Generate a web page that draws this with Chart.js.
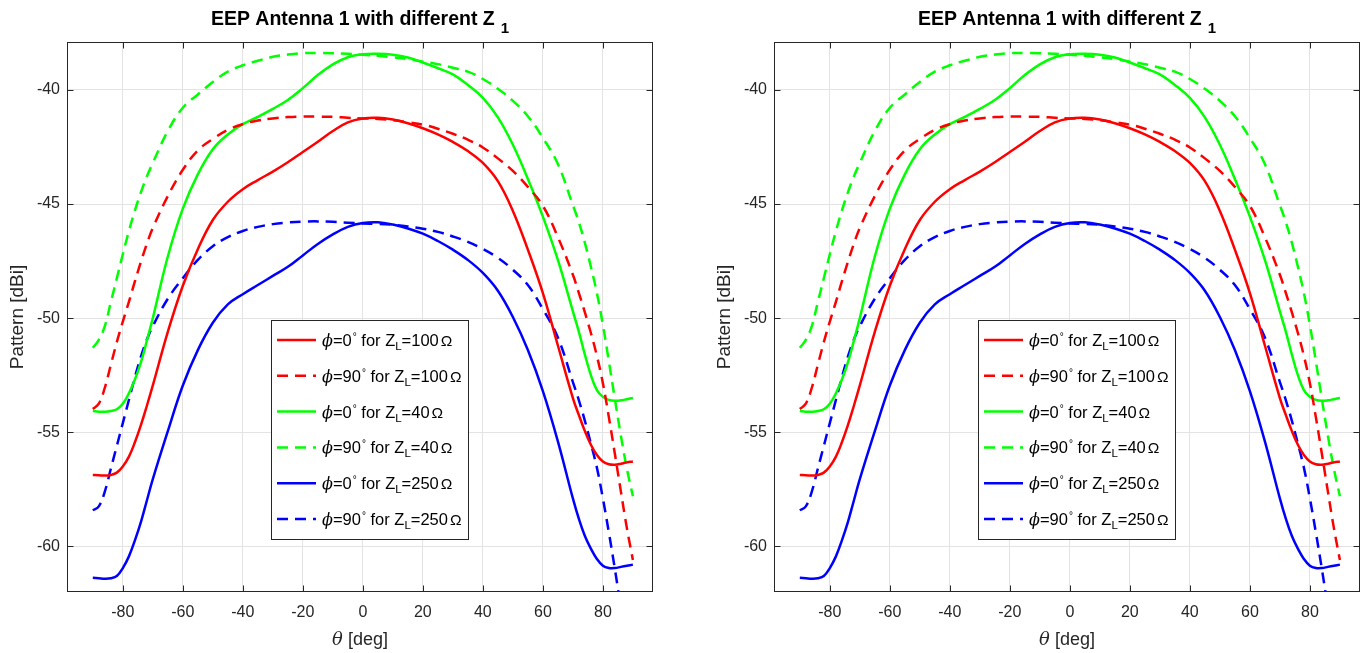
<!DOCTYPE html>
<html>
<head>
<meta charset="utf-8">
<script src="https://cdn.jsdelivr.net/npm/chart.js@4.4.0/dist/chart.umd.min.js"></script>
<style>
  body { margin: 0; background: #fff; width: 1368px; height: 653px; overflow: hidden; position: relative; }
  canvas { position: absolute; top: 0; }
  #eepLeft { left: 0; }
  #eepRight { left: 707px; }
</style>
</head>
<body>
<canvas id="eepLeft" width="661" height="653"></canvas>
<canvas id="eepRight" width="661" height="653"></canvas>
<script>
// angles in degrees (finer near the edges where the curves bend)
const theta = [-90, -88, -86, -84, -82, -80, -78, -76, -74, -72, -70,
  -65, -60, -55, -50, -45, -40, -35, -30, -25, -20, -15, -10, -5, 0,
  5, 10, 15, 20, 25, 30, 35, 40, 45, 50, 55, 60, 65,
  70, 72, 74, 76, 78, 80, 82, 84, 86, 88, 90];

// pattern values [dBi]
const red0 = [-56.87, -56.88, -56.90, -56.87, -56.77, -56.50, -56.08, -55.45, -54.70, -53.85, -52.95,
  -50.60, -48.58, -46.98, -45.70, -44.90, -44.35, -43.95, -43.58, -43.17, -42.72, -42.27, -41.80, -41.42, -41.25,
  -41.22, -41.30, -41.46, -41.68, -41.95, -42.28, -42.68, -43.20, -44.00, -45.30, -47.00, -48.90, -51.20,
  -53.50, -54.25, -54.95, -55.55, -56.00, -56.28, -56.40, -56.42, -56.38, -56.32, -56.28];
const red90 = [-53.98, -53.75, -53.05, -52.05, -51.05, -50.15, -49.30, -48.40, -47.55, -46.75, -46.05,
  -44.65, -43.50, -42.65, -42.15, -41.75, -41.50, -41.34, -41.25, -41.19, -41.17, -41.17, -41.18, -41.22, -41.25,
  -41.27, -41.33, -41.42, -41.52, -41.70, -41.92, -42.18, -42.52, -43.00, -43.55, -44.25, -45.08, -46.45,
  -48.10, -48.90, -49.75, -50.65, -51.65, -52.85, -54.35, -55.95, -57.60, -59.20, -60.60];
const green0 = [-54.07, -54.10, -54.10, -54.07, -53.99, -53.75, -53.30, -52.70, -51.95, -51.00, -50.00,
  -47.30, -45.20, -43.70, -42.60, -41.95, -41.50, -41.18, -40.83, -40.44, -39.92, -39.35, -38.88, -38.57, -38.44,
  -38.42, -38.46, -38.58, -38.80, -39.05, -39.32, -39.78, -40.35, -41.20, -42.40, -43.90, -45.55, -47.45,
  -49.70, -50.60, -51.60, -52.50, -53.15, -53.45, -53.58, -53.62, -53.60, -53.55, -53.50];
const green90 = [-51.30, -50.95, -50.35, -49.30, -48.25, -47.20, -46.20, -45.30, -44.50, -43.80, -43.20,
  -41.80, -40.78, -40.20, -39.65, -39.20, -38.92, -38.72, -38.55, -38.45, -38.39, -38.38, -38.39, -38.42, -38.46,
  -38.50, -38.57, -38.65, -38.76, -38.87, -39.03, -39.20, -39.52, -39.95, -40.48, -41.15, -42.10, -43.25,
  -45.05, -45.80, -46.70, -47.75, -48.90, -50.30, -51.90, -53.55, -55.15, -56.60, -57.80];
const blue0 = [-61.38, -61.40, -61.42, -61.40, -61.30, -60.95, -60.45, -59.75, -58.95, -58.00, -57.05,
  -54.95, -52.95, -51.40, -50.20, -49.40, -48.95, -48.55, -48.15, -47.75, -47.25, -46.75, -46.33, -46.00, -45.83,
  -45.80, -45.90, -46.07, -46.30, -46.62, -47.00, -47.45, -48.02, -48.80, -49.95, -51.40, -53.20, -55.40,
  -57.90, -58.80, -59.55, -60.10, -60.55, -60.85, -60.95, -60.95, -60.90, -60.85, -60.80];
const blue90 = [-58.42, -58.25, -57.60, -56.60, -55.60, -54.60, -53.60, -52.60, -51.70, -50.95, -50.35,
  -49.15, -48.25, -47.45, -46.85, -46.45, -46.18, -46.00, -45.88, -45.81, -45.77, -45.76, -45.78, -45.82, -45.85,
  -45.87, -45.91, -45.98, -46.08, -46.22, -46.42, -46.66, -46.97, -47.36, -47.88, -48.55, -49.60, -50.85,
  -52.80, -53.60, -54.50, -55.50, -56.55, -57.90, -59.40, -61.00, -62.70, -64.40, -66.20];

const phiAngles = [0, 90, 0, 90, 0, 90];
const loads = [100, 100, 40, 40, 250, 250];
const xTicks = [-80, -60, -40, -20, 0, 20, 40, 60, 80];
const yTicks = [-60, -55, -50, -45, -40];

const FONT = '"Liberation Sans", Arial, Helvetica, sans-serif';
const SERIF = '"DejaVu Serif", "Liberation Serif", serif';
const INK = '#262626';

const series = [red0, red90, green0, green90, blue0, blue90];
const colors = ['#ff0000', '#ff0000', '#00ff00', '#00ff00', '#0000ff', '#0000ff'];

// draws text pieces one after another (sub/superscripts via dy)
function drawRich(ctx, parts, x, y, center) {
  let total = 0;
  parts.forEach(p => { ctx.font = p.f; total += (p.gap || 0) + ctx.measureText(p.t).width; });
  let cx = center ? x - total / 2 : x;
  parts.forEach(p => {
    ctx.font = p.f;
    cx += p.gap || 0;
    ctx.fillText(p.t, cx, y + (p.dy || 0));
    cx += ctx.measureText(p.t).width;
  });
}

const matlabAxes = {
  id: 'matlabAxes',
  afterDraw(chart) {
    const ctx = chart.ctx, a = chart.chartArea;
    const xs = chart.scales.x, ys = chart.scales.y;
    const L = Math.round(a.left) + 0.5, R = Math.round(a.right) - 0.5;
    const T = Math.round(a.top) + 0.5, B = Math.round(a.bottom) - 0.5;
    ctx.save();
    ctx.strokeStyle = INK;
    ctx.lineWidth = 1;
    ctx.strokeRect(L, T, R - L, B - T);
    ctx.beginPath();
    xTicks.forEach(v => {
      const px = Math.round(xs.getPixelForValue(v)) + 0.5;
      ctx.moveTo(px, B); ctx.lineTo(px, B - 6);
      ctx.moveTo(px, T); ctx.lineTo(px, T + 6);
    });
    yTicks.forEach(v => {
      const py = Math.round(ys.getPixelForValue(v)) + 0.5;
      ctx.moveTo(L, py); ctx.lineTo(L + 6, py);
      ctx.moveTo(R, py); ctx.lineTo(R - 6, py);
    });
    ctx.stroke();

    // legend box
    const lx = a.left + 204, ly = a.top + 278;
    ctx.fillStyle = '#fff';
    ctx.fillRect(lx, ly, 197, 219);
    ctx.strokeRect(Math.round(lx) + 0.5, Math.round(ly) + 0.5, 197, 219);
    chart.data.datasets.forEach((ds, i) => {
      const ry = ly + 20 + i * 35.8;
      ctx.strokeStyle = ds.borderColor;
      ctx.lineWidth = 2.5;
      ctx.setLineDash(ds.borderDash);
      ctx.beginPath();
      ctx.moveTo(lx + 6, ry); ctx.lineTo(lx + 45, ry);
      ctx.stroke();
      ctx.setLineDash([]);
      ctx.fillStyle = '#000';
      ctx.textBaseline = 'alphabetic';
      drawRich(ctx, [
        { t: 'ϕ', f: 'italic 16px ' + SERIF },
        { t: '=' + phiAngles[i], f: '16.5px ' + FONT },
        { t: '°', f: '10px ' + FONT, dy: -6, gap: 1 },
        { t: ' for Z', f: '16.5px ' + FONT },
        { t: 'L', f: '11.5px ' + FONT, dy: 4 },
        { t: '=' + loads[i], f: '16.5px ' + FONT },
        { t: 'Ω', f: '15.5px ' + FONT, gap: 2 }
      ], lx + 51, ry + 6, false);
    });

    // title and axis titles
    const midX = (a.left + a.right) / 2;
    ctx.fillStyle = '#000';
    drawRich(ctx, [
      { t: 'EEP Antenna 1 with different Z', f: 'bold 19.5px ' + FONT },
      { t: '1', f: 'bold 15px ' + FONT, dy: 8, gap: 6 }
    ], midX, 25, true);
    ctx.fillStyle = INK;
    drawRich(ctx, [
      { t: 'θ', f: 'italic 18px ' + SERIF },
      { t: ' [deg]', f: '18px ' + FONT }
    ], midX, 645, true);
    ctx.save();
    ctx.translate(23, (a.top + a.bottom) / 2);
    ctx.rotate(-Math.PI / 2);
    drawRich(ctx, [{ t: 'Pattern [dBi]', f: '19px ' + FONT }], 0, 0, true);
    ctx.restore();
    ctx.restore();
  }
};

function buildChart(id) {
  const datasets = series.map((vals, i) => ({
    label: 'ϕ=' + phiAngles[i] + '° for Z_L=' + loads[i] + 'Ω',
    data: theta.map((t, j) => ({ x: t, y: vals[j] })),
    borderColor: colors[i],
    backgroundColor: colors[i],
    borderWidth: 2.5,
    borderDash: phiAngles[i] === 90 ? [11, 7] : [],
    pointRadius: 0,
    pointHoverRadius: 0,
    tension: 0.4,
    fill: false
  }));
  return new Chart(document.getElementById(id), {
    type: 'line',
    data: { datasets: datasets },
    options: {
      responsive: false,
      animation: false,
      devicePixelRatio: 1,
      layout: { padding: { top: 42, right: 8, left: 0, bottom: 0 } },
      scales: {
        x: {
          type: 'linear',
          min: -98.6,
          max: 96.7,
          afterFit: s => { s.height = 61; },
          afterBuildTicks: s => { s.ticks = xTicks.map(v => ({ value: v })); },
          grid: { color: '#e3e3e3', drawTicks: false },
          border: { display: false },
          ticks: { color: INK, font: { size: 16, family: FONT }, padding: 11, maxRotation: 0, autoSkip: false }
        },
        y: {
          type: 'linear',
          min: -62,
          max: -37.9,
          afterFit: s => { s.width = 67; },
          afterBuildTicks: s => { s.ticks = yTicks.map(v => ({ value: v })); },
          grid: { color: '#e3e3e3', drawTicks: false },
          border: { display: false },
          ticks: { color: INK, font: { size: 16, family: FONT }, padding: 7, autoSkip: false }
        }
      },
      plugins: {
        legend: { display: false },
        tooltip: { enabled: false },
        title: { display: false }
      }
    },
    plugins: [matlabAxes]
  });
}

buildChart('eepLeft');
buildChart('eepRight');
</script>
</body>
</html>
